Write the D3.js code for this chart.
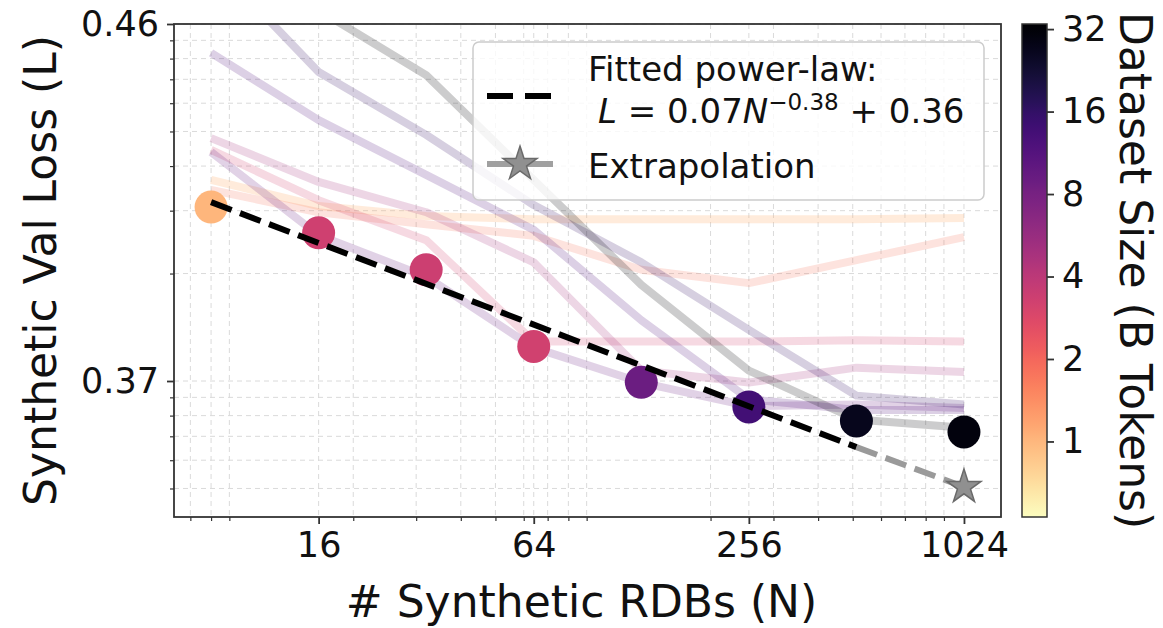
<!DOCTYPE html>
<html><head><meta charset="utf-8">
<script src="https://cdn.jsdelivr.net/npm/d3@7"></script>
<style>
body{margin:0;background:#fff;}
text{font-family:"DejaVu Sans","Liberation Sans",sans-serif;fill:#111;}
</style>
</head><body>
<svg id="chart" width="1163" height="628"></svg>
<script>
// ---------------- data ----------------
const rdbCounts = [8, 16, 32, 64, 128, 256, 512, 1024];
const bestLoss  = [0.3907, 0.3860, 0.3805, 0.3725, 0.36992, 0.36846, 0.36773, 0.36720];
const bestSize  = [1.0, 3.3, 3.4, 3.2, 9.0, 13.5, 27, 30];

const curveSizes = [1.0, 1.8, 3.2, 5, 9, 12, 16, 32];
const curveLoss0 = [0.3966, 0.3909, 0.3890, 0.3884, 0.3884, 0.3884, 0.3884, 0.3886];
const curveLoss1 = [0.3943, 0.3897, 0.3875, 0.3855, 0.3805, 0.3788, 0.3818, 0.3853];
const curveLoss2 = [0.4044, 0.3921, 0.3848, 0.3729, 0.3729, 0.3729, 0.3730, 0.3729];
const curveLoss3 = [0.4079, 0.3961, 0.3897, 0.3815, 0.3707, 0.3699, 0.3709, 0.3706];
const curveLoss4 = [0.4038, 0.3856, 0.3796, 0.3724, 0.3699, 0.3685, 0.3686, 0.3684];
const curveLoss5 = [0.4430, 0.4138, 0.3978, 0.3865, 0.3748, 0.3689, 0.3683, 0.3683];
const curveLoss6 = [0.5110, 0.4334, 0.4089, 0.3911, 0.3815, 0.3739, 0.3691, 0.3686];
const curveLoss7 = [0.5600, 0.4694, 0.4319, 0.3966, 0.3786, 0.3707, 0.3678, 0.3674];
const curveLosses = [curveLoss0, curveLoss1, curveLoss2, curveLoss3, curveLoss4, curveLoss5, curveLoss6, curveLoss7];

const fitN = [8, 512];
const fitLoss = [0.3917, 0.36653];
const extrapN = [512, 1024];
const extrapLoss = [0.36653, 0.36505];

const xTickValues = [16, 64, 256, 1024];
const yTickValues = [0.46, 0.37];
const sizeTickValues = [1, 2, 4, 8, 16, 32];
const LOSS_OFFSET = 0.36;

// ---------------- layout ----------------
const svg = d3.select("#chart");
const P = {left:174, right:1001, top:24, bottom:517};
const x = d3.scaleLog().domain([6.3, 1300]).range([P.left, P.right]);
const yl = d3.scaleLog().domain([0.1, 0.00416]).range([P.top, P.bottom]);
const y = L => yl(L - LOSS_OFFSET);
const sizeScale = d3.scaleLog().domain([0.53, 33.4]).range([0, 1]);
const color = s => d3.interpolateMagma(1 - Math.max(0, Math.min(1, sizeScale(s))));

// minor tick positions (log subs 2..9)
const xMinor = [];
[1, 10, 100].forEach(k => { for (let m = 2; m <= 9; m++) { const v = m * k; if (v > 6.3 && v < 1300) xMinor.push(v); } });
const yMinor = [];
[0.001, 0.01].forEach(k => { for (let m = 2; m <= 9; m++) { const v = m * k; if (v > 0.00416 && v < 0.1) yMinor.push(v + LOSS_OFFSET); } });

// clip
svg.append("defs").append("clipPath").attr("id","clip")
  .append("rect").attr("x",P.left).attr("y",P.top).attr("width",P.right-P.left).attr("height",P.bottom-P.top);

// grid
const grid = svg.append("g").attr("stroke","#dadada").attr("stroke-width",1).attr("stroke-dasharray","5,4");
xMinor.concat(xTickValues).forEach(v => grid.append("line").attr("x1",x(v)).attr("x2",x(v)).attr("y1",P.top).attr("y2",P.bottom));
yMinor.concat(yTickValues).forEach(v => grid.append("line").attr("y1",y(v)).attr("y2",y(v)).attr("x1",P.left).attr("x2",P.right));

// curves
const plotG = svg.append("g").attr("clip-path","url(#clip)");
const line = d3.line().x(d => x(d[0])).y(d => y(d[1]));
curveLosses.forEach((arr, i) => {
  plotG.append("path")
    .attr("d", line(rdbCounts.map((n, j) => [n, arr[j]])))
    .attr("fill","none").attr("stroke", color(curveSizes[i]))
    .attr("stroke-opacity", i === 0 ? 0.28 : 0.2).attr("stroke-width",8)
    .attr("stroke-linejoin","round").attr("stroke-linecap","butt");
});

// markers
plotG.selectAll("circle.best").data(rdbCounts).enter().append("circle")
  .attr("cx", d => x(d)).attr("cy", (d,i) => y(bestLoss[i])).attr("r",16.5)
  .attr("fill", (d,i) => color(bestSize[i]));

// fit + extrapolation
plotG.append("path").attr("d", line(extrapN.map((n,i)=>[n, extrapLoss[i]])))
  .attr("fill","none").attr("stroke","#9a9a9a").attr("stroke-width",6).attr("stroke-dasharray","22,9");
plotG.append("path").attr("d", line(fitN.map((n,i)=>[n, fitLoss[i]])))
  .attr("fill","none").attr("stroke","#000").attr("stroke-width",6).attr("stroke-dasharray","22,9");
plotG.append("path").attr("d", d3.symbol(d3.symbolStar, 360)())
  .attr("transform", `translate(${x(1024)},${y(extrapLoss[1])})`)
  .attr("fill","#909090").attr("stroke","#6a6a6a").attr("stroke-width",1.5);

// spines
svg.append("rect").attr("x",P.left).attr("y",P.top).attr("width",P.right-P.left).attr("height",P.bottom-P.top)
  .attr("fill","none").attr("stroke","#333").attr("stroke-width",1.8);

// axes
const fontTick = 35;
const xAx = svg.append("g").attr("transform",`translate(0,${P.bottom})`)
  .call(d3.axisBottom(x).tickValues(xTickValues).tickFormat(d3.format("d")).tickSize(7).tickPadding(8));
const xAxMin = svg.append("g").attr("transform",`translate(0,${P.bottom})`)
  .call(d3.axisBottom(x).tickValues(xMinor).tickFormat("").tickSize(4));
const yAx = svg.append("g").attr("transform",`translate(${P.left},0)`)
  .call(d3.axisLeft(yl).tickValues(yTickValues.map(v=>v-LOSS_OFFSET)).tickFormat((d,i)=>yTickValues[i].toFixed(2)).tickSize(7).tickPadding(8));
const yAxMin = svg.append("g").attr("transform",`translate(${P.left},0)`)
  .call(d3.axisLeft(yl).tickValues(yMinor.map(v=>v-LOSS_OFFSET)).tickFormat("").tickSize(4));
[xAx,xAxMin,yAx,yAxMin].forEach(g => { g.select(".domain").remove(); g.selectAll("line").attr("stroke","#333").attr("stroke-width",1.8); });
[xAxMin,yAxMin].forEach(g => g.selectAll("line").attr("stroke-width",1.2));
[xAx,yAx].forEach(g => g.selectAll("text").attr("font-size",fontTick).attr("font-family","DejaVu Sans").attr("fill","#111"));

// axis titles
svg.append("text").attr("x",(P.left+P.right)/2 - 6).attr("y",617).attr("text-anchor","middle")
  .attr("font-size",44).text("# Synthetic RDBs (N)");
svg.append("text").attr("transform",`translate(56,${(P.top+P.bottom)/2}) rotate(-90)`).attr("text-anchor","middle")
  .attr("font-size",44).text("Synthetic Val Loss (L)");

// colorbar
const CB = {x:1022, w:25, top:24, bottom:517};
const grad = svg.select("defs").append("linearGradient").attr("id","cbgrad")
  .attr("x1",0).attr("y1",1).attr("x2",0).attr("y2",0);
d3.range(0, 1.0001, 0.02).forEach(t => grad.append("stop").attr("offset",t).attr("stop-color", d3.interpolateMagma(1-t)));
svg.append("rect").attr("x",CB.x).attr("y",CB.top).attr("width",CB.w).attr("height",CB.bottom-CB.top)
  .attr("fill","url(#cbgrad)").attr("stroke","#333").attr("stroke-width",1.5);
const cbScale = d3.scaleLog().domain([0.53, 33.4]).range([CB.bottom, CB.top]);
const cbAx = svg.append("g").attr("transform",`translate(${CB.x+CB.w},0)`)
  .call(d3.axisRight(cbScale).tickValues(sizeTickValues).tickFormat(d3.format("d")).tickSize(7).tickPadding(8));
cbAx.select(".domain").remove();
cbAx.selectAll("line").attr("stroke","#333").attr("stroke-width",1.8);
cbAx.selectAll("text").attr("font-size",fontTick).attr("font-family","DejaVu Sans").attr("fill","#111");
svg.append("text").attr("transform",`translate(1120,${(CB.top+CB.bottom)/2}) rotate(90)`).attr("text-anchor","middle")
  .attr("font-size",44).text("Dataset Size (B Tokens)");

// legend
const lg = svg.append("g");
lg.append("rect").attr("x",473).attr("y",42).attr("width",511).attr("height",158).attr("rx",6)
  .attr("fill","#fff").attr("fill-opacity",0.8).attr("stroke","#cccccc").attr("stroke-width",1.5);
lg.append("line").attr("x1",487).attr("x2",553).attr("y1",96).attr("y2",96)
  .attr("stroke","#000").attr("stroke-width",6).attr("stroke-dasharray","26,12");
lg.append("text").attr("x",588).attr("y",81).attr("font-size",34).text("Fitted power-law:");
const eq = lg.append("text").attr("x",598).attr("y",123).attr("font-size",34);
eq.append("tspan").attr("font-style","italic").text("L");
eq.append("tspan").text(" = 0.07");
eq.append("tspan").attr("font-style","italic").text("N");
eq.append("tspan").attr("font-size",23).attr("dy",-13).text("\u22120.38");
eq.append("tspan").attr("dy",13).text(" + 0.36");
lg.append("line").attr("x1",487).attr("x2",553).attr("y1",164).attr("y2",164)
  .attr("stroke","#a0a0a0").attr("stroke-width",6);
lg.append("path").attr("d", d3.symbol(d3.symbolStar, 360)()).attr("transform","translate(520,164)")
  .attr("fill","#909090").attr("stroke","#6a6a6a").attr("stroke-width",1.5);
lg.append("text").attr("x",588).attr("y",178).attr("font-size",34).text("Extrapolation");
</script>
</body></html>
